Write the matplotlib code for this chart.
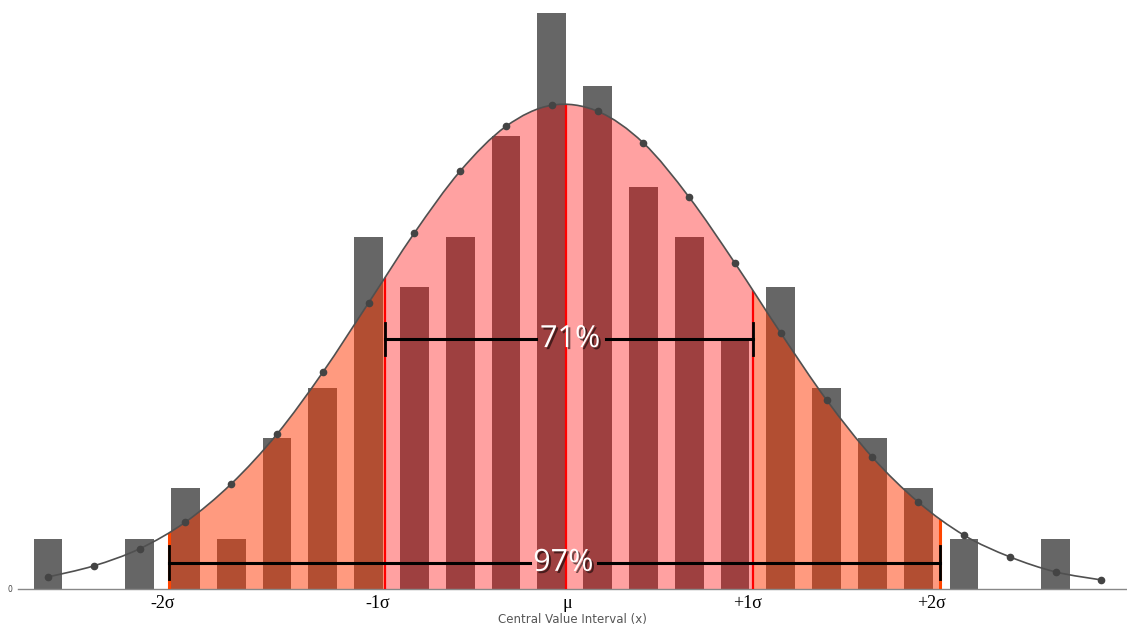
import matplotlib
matplotlib.use("Agg")
import matplotlib.pyplot as plt
from matplotlib.path import Path
import matplotlib.patches as patches
import matplotlib.patheffects as pe

#======================================================================#
# Histogram of central values with a fitted normal curve and sigma bands.
#======================================================================#

# bar counts per interval (index 0..22)
counts = [1, 0, 1, 2, 1, 3, 4, 7, 6, 7, 9, 12, 10, 8, 7, 5, 6, 4, 3, 2, 1, 0, 1]

# curve points (index 0..23)
curveY = [0.24, 0.46, 0.80, 1.33, 2.09, 3.08, 4.31, 5.69, 7.08, 8.31, 9.20, 9.62,
          9.50, 8.87, 7.79, 6.48, 5.09, 3.76, 2.62, 1.73, 1.07, 0.64, 0.34, 0.18]

# sigma band edges (x positions, same scale as the bars)
mu = 11.31
minus2, minus1, plus1, plus2 = 2.64, 7.36, 15.39, 19.48

tickPos = [2.50, 7.20, 11.35, 15.27, 19.30]
tickLabels = ["-2\u03c3", "-1\u03c3", "\u03bc", "+1\u03c3", "+2\u03c3"]

inner = "71%"
outer = "97%"


#Builds a smooth (Catmull-Rom as Bezier) path through the curve points.
def smoothPath(xs, ys, close=False):
    pts = list(zip(xs, ys))
    n = len(pts)
    verts = [pts[0]]
    codes = [Path.MOVETO]
    for i in range(n - 1):
        p0 = pts[max(i - 1, 0)]
        p1 = pts[i]
        p2 = pts[i + 1]
        p3 = pts[min(i + 2, n - 1)]
        c1 = (p1[0] + (p2[0] - p0[0]) / 6, p1[1] + (p2[1] - p0[1]) / 6)
        c2 = (p2[0] - (p3[0] - p1[0]) / 6, p2[1] - (p3[1] - p1[1]) / 6)
        verts += [c1, c2, p2]
        codes += [Path.CURVE4] * 3
    if close:
        verts += [(xs[-1], 0), (xs[0], 0), pts[0]]
        codes += [Path.LINETO, Path.LINETO, Path.CLOSEPOLY]
    return Path(verts, codes)


fig = plt.figure(figsize=(11.27, 6.25), dpi=100)
ax = fig.add_axes([18 / 1127, 36 / 625, 1 - 18 / 1127, (625 - 36 - 12.7) / 625])

barX = list(range(len(counts)))
curveX = list(range(len(curveY)))

ax.bar(barX, counts, width=0.63, color="#666666", zorder=1)

# shaded areas under the curve, clipped to the sigma bands
area = smoothPath(curveX, curveY, close=True)
bands = [(minus1, plus1, "#ff0000", 0.37),
         (minus2, minus1, "#ff3700", 0.5),
         (plus1, plus2, "#ff3700", 0.5)]
for x0, x1, col, a in bands:
    fill = patches.PathPatch(area, facecolor=col, alpha=a, lw=0, zorder=2)
    ax.add_patch(fill)
    rect = patches.Rectangle((x0, 0), x1 - x0, 20, transform=ax.transData)
    fill.set_clip_path(rect)

# vertical lines clipped to the area under the curve
clipArea = patches.PathPatch(area, transform=ax.transData)
for xv, col, lw in [(mu, "#ff0000", 1.6), (minus1, "#ff0000", 1.6), (plus1, "#ff0000", 1.6),
                    (minus2, "#ff4500", 2.2), (plus2, "#ff4500", 2.2)]:
    ln, = ax.plot([xv, xv], [0, 12], color=col, lw=lw, zorder=3)
    ln.set_clip_path(clipArea)

# curve and its points
ax.add_patch(patches.PathPatch(smoothPath(curveX, curveY), fill=False,
                               edgecolor="#505050", lw=1.2, zorder=4))
ax.plot(curveX, curveY, "o", color="#444444", ms=4.5, zorder=5)

# interval brackets with percentages
shadow = [pe.withSimplePatchShadow(offset=(1.5, -1.5), shadow_rgbFace="black", alpha=0.55)]
for x0, x1, y, cap, gap, txt, tx in [(minus1, plus1, 4.97, 0.32, (10.65, 12.18), inner, 11.4),
                                     (minus2, plus2, 0.52, 0.33, (10.52, 12.0), outer, 11.25)]:
    ax.plot([x0, gap[0]], [y, y], color="black", lw=2.2, zorder=6)
    ax.plot([gap[1], x1], [y, y], color="black", lw=2.2, zorder=6)
    ax.plot([x0, x0], [y - cap, y + cap], color="black", lw=2.0, zorder=6)
    ax.plot([x1, x1], [y - cap, y + cap], color="black", lw=2.0, zorder=6)
    ax.text(tx, y, txt, color="white", fontsize=22, family="Open Sans",
            ha="center", va="center", zorder=7, path_effects=shadow)

ax.set_xlim(-0.655, 23.56)
ax.set_ylim(0, 11.46)

ax.set_xticks(tickPos)
ax.set_xticklabels(tickLabels, family="Liberation Serif", fontsize=13)
ax.set_yticks([0])
ax.set_yticklabels(["0"], fontsize=5.5, color="#444444")
ax.tick_params(axis="both", length=0)
ax.tick_params(axis="x", pad=4)
ax.tick_params(axis="y", pad=4)
ax.set_xlabel("Central Value Interval (x)", fontsize=8.5, color="#555555", labelpad=1)

for s in ["top", "right", "left"]:
    ax.spines[s].set_visible(False)
ax.spines["bottom"].set_color("#888888")
ax.spines["bottom"].set_linewidth(1)

fig.savefig("out.png", dpi=100)
